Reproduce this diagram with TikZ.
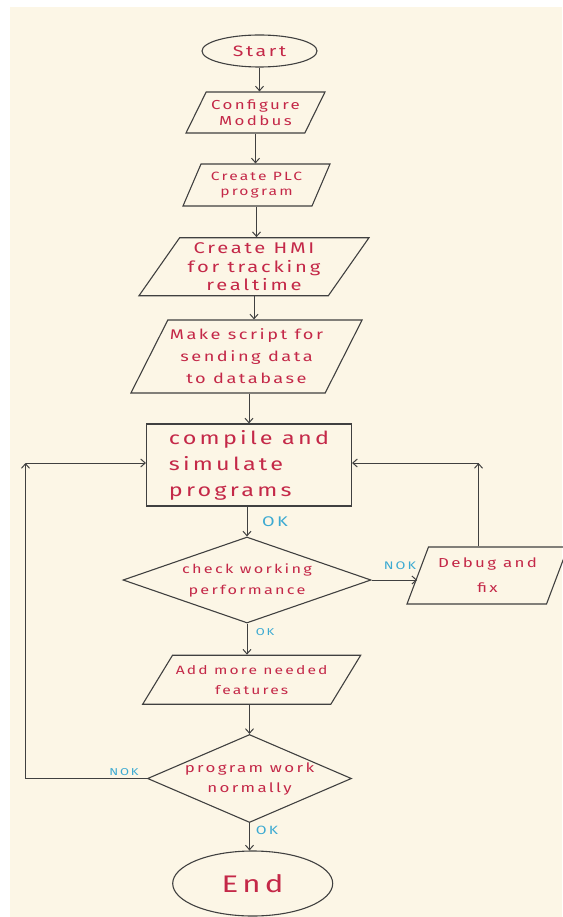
\documentclass[tikz,border=0pt]{standalone}
\usepackage{fontspec}
\usetikzlibrary{shapes.geometric,arrows.meta}
\newfontfamily\hand{Fira Sans}[FakeStretch=1.3,LetterSpace=18]
\definecolor{PaperCream}{HTML}{FCF6E6}
\definecolor{InkRed}{HTML}{C42848}
\definecolor{InkBlue}{HTML}{3CAAD2}
\definecolor{PenGray}{HTML}{404040}
\newcommand\handsize[2]{\hand\fontsize{#1}{#2}\selectfont}
\tikzset{
  box/.style={draw=PenGray,line width=1.1pt,text=InkRed,inner sep=2pt,align=center},
  para/.style 2 args={box,trapezium,trapezium left angle=#1,trapezium right angle=#2,trapezium stretches body},
  decision/.style={box,diamond,inner sep=0pt},
  terminal/.style={box,ellipse,inner sep=0pt},
  flow/.style={draw=PenGray,line width=1pt,-{Straight Barb[length=4.5pt,width=8pt]}},
  tag/.style={text=InkBlue,inner sep=0pt}
}

\begin{document}
\begin{tikzpicture}[x=1pt,y=-1pt]
  \useasboundingbox (0,0) rectangle (562,917);
  \fill[white] (0,0) rectangle (562,917);
  \fill[PaperCream] (10,7) rectangle (562,917);
  \node[terminal,minimum width=115pt,minimum height=32pt,font=\handsize{15}{18}] (start) at (259.5,51) {Start};
  \node[para={56}{124},minimum width=139pt,minimum height=41pt,font=\handsize{13}{16}] (cfg) at (255.5,112.5) {Configure\\Modbus};
  \node[para={59}{121},minimum width=147pt,minimum height=42pt,font=\handsize{12}{15}] (plc) at (256.5,185) {Create PLC\\program};
  \node[para={52}{128},minimum width=230pt,minimum height=58pt,font=\handsize{15.5}{18.5}] (hmi) at (254,266.7) {Create HMI\\for tracking\\realtime};
  \node[para={58}{122},minimum width=227pt,minimum height=73pt,font=\handsize{14}{22}] (script) at (246.5,356.5) {Make script for\\sending data\\to database};
  \node[box,minimum width=205pt,minimum height=82pt,align=left,font=\handsize{18}{26}] (comp) at (249,465) {compile and\\simulate\\programs};
  \node[decision,aspect=2.9,minimum width=248pt,minimum height=86pt,font=\handsize{12.5}{21}] (chk) at (247,580) {check working\\performance};
  \node[para={61}{119},minimum width=161pt,minimum height=57pt,font=\handsize{13}{25}] (dbg) at (487.5,575.5) {Debug and\\fix};
  \node[para={48}{132},minimum width=218pt,minimum height=49pt,font=\handsize{12}{20}] (add) at (251.7,679.7) {Add more needed\\features};
  \node[decision,aspect=2.3,inner xsep=-4pt,minimum width=204pt,minimum height=88pt,font=\handsize{13}{20}] (prog) at (249.5,778.5) {program work\\normally};
  \node[terminal,minimum width=160pt,minimum height=65pt,font=\handsize{24}{28}] (end) at (252.7,883.5) {End};
  \draw[flow] (start.south) -- (start.south |- cfg.north);
  \draw[flow] (cfg.south) -- (cfg.south |- plc.north);
  \draw[flow] (plc.south) -- (plc.south |- hmi.north);
  \draw[flow] (hmi.south) -- (hmi.south |- script.north);
  \draw[flow] (comp.north |- script.south) -- (comp.north);
  \draw[flow] (chk.north |- comp.south) -- (chk.north);
  \draw[flow] (chk.south) -- (chk.south |- add.north);
  \draw[flow] (prog.north |- add.south) -- (prog.north);
  \draw[flow] (prog.south) -- (prog.south |- end.north);
  \draw[flow] (chk.east) -- (chk.east -| dbg.west);
  \coordinate (rturn) at (478.5,463);
  \coordinate (lturn) at (25.5,463);
  \draw[flow] (rturn |- dbg.north) -- (rturn);
  \draw[flow] (rturn) -- (rturn -| comp.east);
  \draw[flow] (prog.west) -- (prog.west -| lturn) -- (lturn);
  \draw[flow] (lturn) -- (lturn -| comp.west);
  \node[tag,font=\handsize{14}{14}] (okcomp) at (275,522) {OK};
  \node[tag,font=\handsize{10}{10}] (okchk) at (265,632) {OK};
  \node[tag,font=\handsize{12}{12}] (okprog) at (267,830) {OK};
  \node[tag,font=\handsize{11}{11}] (nokchk) at (400,566) {NOK};
  \node[tag,font=\handsize{10}{10}] (nokprog) at (124,772) {NOK};
\end{tikzpicture}
\end{document}
